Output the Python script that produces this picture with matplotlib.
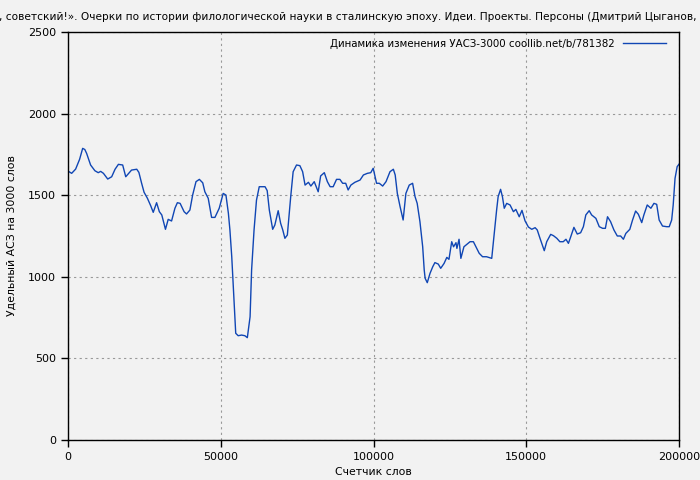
import matplotlib
matplotlib.use("Agg")
import matplotlib.pyplot as plt

# values
words = [0, 1200, 2500, 3800, 4800, 5500, 6100, 7400, 8800, 9900, 10700, 11600,
         13000, 14300, 15400, 16500, 17900, 18900, 19700, 20800, 22500, 23200,
         24100, 24900, 26000, 27100, 27900, 29000, 29900, 30700, 31900, 32800,
         33900, 35000, 35800, 36700, 38000, 38800, 39900, 40800, 41900, 43000,
         44100, 44800, 45900, 47000, 48100, 49500, 50800, 51700, 52500, 53000,
         53600, 54100, 54400, 54900, 55700, 56800, 57900, 58700, 59600, 60100,
         60900, 61700, 62600, 64500, 65200, 65900, 67000, 67700, 68800, 69600,
         70300, 71000, 71800, 72900, 73700, 74800, 75900, 76800, 77600, 78700,
         79500, 80600, 81900, 82700, 83900, 84900, 85800, 86800, 87900, 89000,
         89900, 90900, 91700, 92600, 93900, 95600, 96700, 98000, 99100, 99900,
         101000, 101900, 103000, 104100, 105400, 106500, 107100, 107800, 108700,
         109700, 110600, 111700, 112800, 113600, 114300, 115200, 116100, 116600,
         116900, 117600, 118500, 119400, 120100, 121200, 122000, 123100, 124000,
         124700, 125600, 126200, 127000, 127300, 128000, 128600, 129600, 130300,
         131600, 132700, 133800, 134600, 135700, 137000, 138700, 139200, 139800,
         140300, 140800, 141600, 142200, 142800, 143600, 144700, 145800, 146600,
         147700, 148600, 149600, 150700, 151800, 152900, 153600, 154500, 155900,
         156700, 158000, 158900, 160000, 161000, 162100, 163000, 163800, 164500,
         165600, 166700, 167800, 168700, 169500, 170600, 171400, 172800, 173900,
         175000, 175900, 176600, 177600, 178700, 179800, 180900, 181800, 182600,
         183900, 184800, 185800, 186700, 187800, 188500, 189600, 190800, 191800,
         192700, 193500, 194600, 196000, 196800, 197600, 198100, 198700, 199400,
         200000]
uasz = [1648, 1634, 1660, 1720, 1787, 1780, 1756, 1685, 1650, 1638, 1646, 1634,
        1599, 1613, 1659, 1689, 1685, 1613, 1630, 1654, 1659, 1640,
        1573, 1518, 1481, 1434, 1395, 1454, 1399, 1379, 1291, 1352,
        1342, 1420, 1454, 1450, 1399, 1385, 1409, 1501, 1583, 1597,
        1576, 1521, 1481, 1364, 1364, 1420, 1511, 1501, 1389, 1287,
        1123, 939, 817, 654, 639, 643, 639, 627, 755, 1042,
        1287, 1470, 1552, 1552, 1528, 1409, 1291, 1317, 1405, 1328,
        1287, 1236, 1256, 1491, 1644, 1685, 1681, 1644, 1562, 1579,
        1556, 1583, 1521, 1618, 1638, 1583, 1552, 1552, 1597, 1597,
        1573, 1573, 1532, 1562, 1579, 1593, 1624, 1634, 1638, 1665,
        1573, 1573, 1556, 1583, 1644, 1659, 1624, 1511, 1430,
        1348, 1511, 1562, 1573, 1491, 1450, 1338, 1184, 1042,
        991, 964, 1021, 1062, 1087, 1078, 1052, 1082, 1119,
        1107, 1215, 1184, 1209, 1174, 1230, 1113, 1184, 1195,
        1215, 1215, 1174, 1144, 1123, 1123, 1113, 1205, 1317,
        1409, 1491, 1536, 1491, 1420, 1450, 1440, 1399, 1413,
        1368, 1407, 1343, 1305, 1291, 1301, 1287, 1236, 1160,
        1215, 1260, 1252, 1236, 1215, 1215, 1230, 1205, 1242,
        1303, 1262, 1270, 1307, 1379, 1405, 1379, 1358, 1307,
        1297, 1297, 1368, 1338, 1287, 1250, 1250, 1230, 1266,
        1291, 1348, 1403, 1383, 1332, 1379, 1440, 1420, 1450,
        1444, 1348, 1311, 1307, 1307, 1348, 1440, 1603, 1675,
        1690]

x_ticks = [0, 50000, 100000, 150000, 200000]
y_ticks = [0, 500, 1000, 1500, 2000, 2500]

title = (", советский!». Очерки по истории филологической науки в сталинскую эпоху. "
         "Идеи. Проекты. Персоны (Дмитрий Цыганов, В")
legend_label = "Динамика изменения УАСЗ-3000 coollib.net/b/781382"

bg = "#f2f2f2"
plt.rcParams["font.family"] = "DejaVu Sans"
plt.rcParams["font.size"] = 8

fig = plt.figure(figsize=(7, 4.8), dpi=100, facecolor=bg)
ax = fig.add_axes([68 / 700, 40 / 480, 611 / 700, 408 / 480], facecolor=bg)

ax.plot(words, uasz, color="#1046b4", lw=1.0, label=legend_label)

ax.set_xlim(0, 200000)
ax.set_ylim(0, 2500)
ax.set_xticks(x_ticks)
ax.set_yticks(y_ticks)
ax.tick_params(direction="out", length=5, width=1, colors="black", labelsize=8)
ax.grid(True, color="#999999", linestyle=(0, (2, 3)), linewidth=0.8)
for s in ax.spines.values():
    s.set_color("black")
    s.set_linewidth(1.0)

ax.set_xlabel("Счетчик слов", fontsize=7.8, labelpad=4)
ax.set_ylabel("Удельный АСЗ на 3000 слов", fontsize=7.8, labelpad=8)

fig.text(-0.002, 1 - 17 / 480, title, ha="left", va="center", fontsize=7.6)

leg = ax.legend(loc="upper right", bbox_to_anchor=(0.985, 0.993), frameon=False,
                markerfirst=False, fontsize=7.4, handlelength=4.2,
                handletextpad=0.8, borderaxespad=0.0)

fig.savefig("out.png", dpi=100, facecolor=bg)
